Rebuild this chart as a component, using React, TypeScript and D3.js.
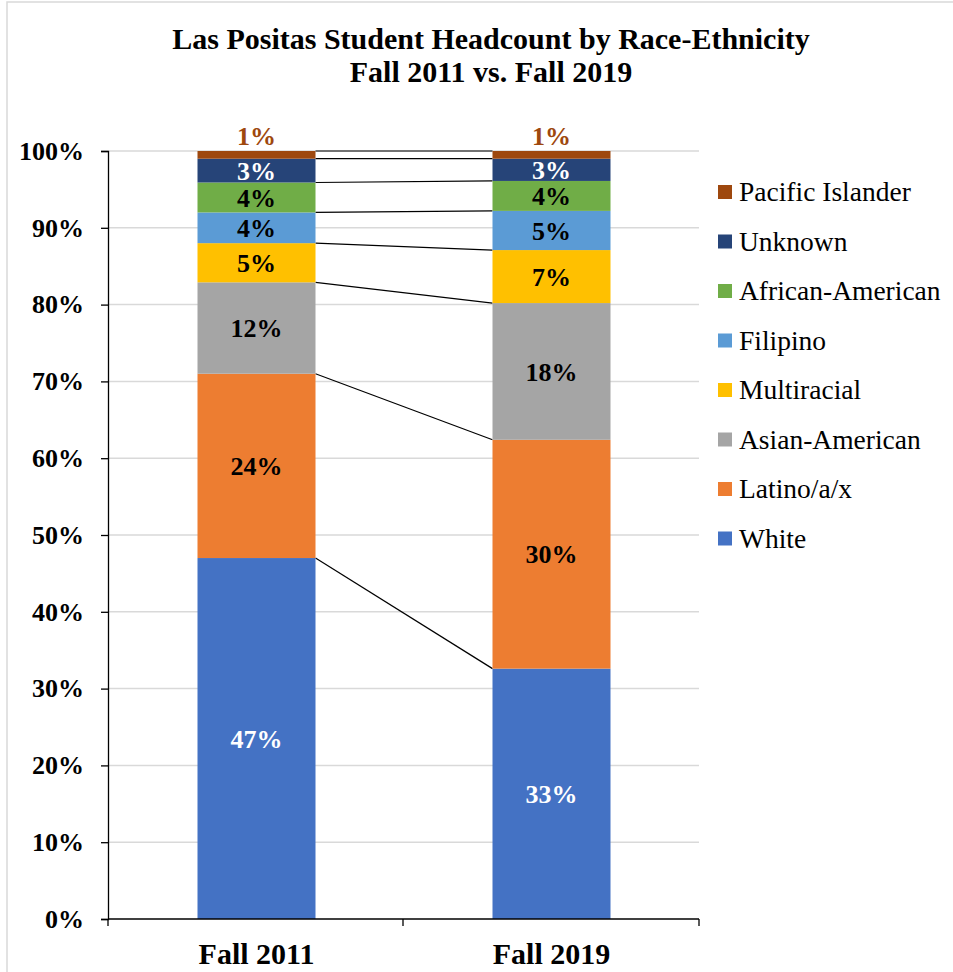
import React, { useEffect, useRef } from "react";
import * as d3 from "d3";

// terms on the x axis
const terms = ["Fall 2011", "Fall 2019"];

// percent of headcount, per group, [Fall 2011, Fall 2019]
const white = [47.0, 32.6];
const latino = [24.0, 29.8];
const asianAmerican = [11.9, 17.8];
const multiracial = [5.1, 6.9];
const filipino = [4.0, 5.1];
const africanAmerican = [3.9, 3.9];
const unknown = [3.1, 2.9];
const pacificIslander = [1.0, 1.0];

const groups = [
  "White",
  "Latino/a/x",
  "Asian-American",
  "Multiracial",
  "Filipino",
  "African-American",
  "Unknown",
  "Pacific Islander",
];
const series = [white, latino, asianAmerican, multiracial, filipino, africanAmerican, unknown, pacificIslander];
const colors = ["#4472C4", "#ED7D31", "#A5A5A5", "#FFC000", "#5B9BD5", "#70AD47", "#264478", "#9E480E"];
const labelColors = ["#fff", "#000", "#000", "#000", "#000", "#000", "#fff", "#9E480E"];

const yTicks = [0, 10, 20, 30, 40, 50, 60, 70, 80, 90, 100];

const W = 953;
const H = 972;
const font = "Liberation Serif";

const x = d3.scaleBand<string>().domain(terms).range([109, 699]).paddingInner(0.6).paddingOuter(0.3);
const y = d3.scaleLinear().domain([0, 100]).range([919, 151]);

const rows = terms.map((t, i) => {
  const r: Record<string, number | string> = { term: t };
  groups.forEach((g, k) => (r[g] = series[k][i]));
  return r;
});
const stacked = d3.stack<Record<string, number | string>>().keys(groups)(rows as any);
const pct = d3.format(".0%");

export default function App() {
  const yRef = useRef<SVGGElement>(null);
  const xRef = useRef<SVGGElement>(null);

  useEffect(() => {
    const ya = d3.select(yRef.current!);
    ya.call(
      d3.axisLeft(y).tickValues(yTicks).tickSize(7).tickPadding(17).tickFormat((d) => `${d}%`)
    );
    ya.attr("font-family", font);
    ya.select(".domain").attr("stroke", "#000").attr("stroke-width", 1.3);
    ya.selectAll(".tick line").attr("stroke", "#000").attr("stroke-width", 1.3);
    ya.selectAll(".tick text")
      .attr("fill", "#000")
      .attr("font-family", font)
      .attr("font-size", 26)
      .attr("font-weight", "bold");

    const xa = d3.select(xRef.current!);
    xa.call(d3.axisBottom(x).tickSize(0).tickPadding(24));
    xa.attr("font-family", font);
    xa.select(".domain").remove();
    xa.selectAll(".tick text")
      .attr("fill", "#000")
      .attr("font-family", font)
      .attr("font-size", 30)
      .attr("font-weight", "bold");
  }, []);

  const bw = x.bandwidth();
  const [x0, x1] = x.range();
  const step = x.step();
  const axisTicks = [x0 - 1, x0 - 1 + step, x1];

  return (
    <svg
      width={W}
      height={H}
      fontFamily={font}
      style={{ position: "absolute", left: 0, top: 0, background: "#fff" }}
    >
      <rect x={7} y={2} width={1000} height={1000} fill="#fff" stroke="#d9d9d9" strokeWidth={1.5} />

      <text x={491} y={49} textAnchor="middle" fontSize={30} fontWeight="bold" fontFamily={font}>
        Las Positas Student Headcount by Race-Ethnicity
      </text>
      <text x={491} y={82} textAnchor="middle" fontSize={30} fontWeight="bold" fontFamily={font}>
        Fall 2011 vs. Fall 2019
      </text>

      {/* gridlines */}
      {yTicks.slice(1).map((t) => (
        <line key={t} x1={x0 - 1} x2={x1} y1={y(t)} y2={y(t)} stroke="#d9d9d9" strokeWidth={1.5} />
      ))}

      {/* series lines between bars */}
      {stacked.map((s, k) => (
        <line
          key={"c" + k}
          x1={x(terms[0])! + bw}
          x2={x(terms[1])!}
          y1={y(s[0][1])}
          y2={y(s[1][1])}
          stroke="#000"
          strokeWidth={1.2}
        />
      ))}

      {stacked.map((s, k) => (
        <g key={groups[k]}>
          {s.map((d, i) => (
            <rect
              key={i}
              x={x(terms[i])}
              y={y(d[1])}
              width={bw}
              height={y(d[0]) - y(d[1])}
              fill={colors[k]}
            />
          ))}
        </g>
      ))}

      {/* data labels */}
      {stacked.map((s, k) =>
        s.map((d, i) => {
          const v = d[1] - d[0];
          const top = k === groups.length - 1;
          return (
            <text
              key={k + "-" + i}
              x={x(terms[i])! + bw / 2}
              y={top ? y(d[1]) - 6 : (y(d[0]) + y(d[1])) / 2}
              dy={top ? 0 : "0.35em"}
              textAnchor="middle"
              fontSize={26}
              fontWeight="bold"
              fontFamily={font}
              fill={labelColors[k]}
            >
              {pct(Math.round(v) / 100)}
            </text>
          );
        })
      )}

      <g ref={yRef} transform={`translate(${x0 - 1},0)`} />
      <g ref={xRef} transform={`translate(0,${y(0)})`} />

      {/* x axis line with tick marks */}
      <line x1={x0 - 1} x2={x1} y1={y(0)} y2={y(0)} stroke="#000" strokeWidth={1.3} />
      {axisTicks.map((t, i) => (
        <line key={"xt" + i} x1={t} x2={t} y1={y(0)} y2={y(0) + 7} stroke="#000" strokeWidth={1.3} />
      ))}

      {/* legend */}
      {groups
        .map((g, k) => ({ g, k }))
        .reverse()
        .map(({ g, k }, i) => (
          <g key={g} transform={`translate(718,${192 + i * 49.5})`}>
            <rect x={0} y={-7} width={14} height={14} fill={colors[k]} />
            <text x={21} y={0} dy="0.33em" fontSize={27.5} fontFamily={font}>
              {g}
            </text>
          </g>
        ))}
    </svg>
  );
}
